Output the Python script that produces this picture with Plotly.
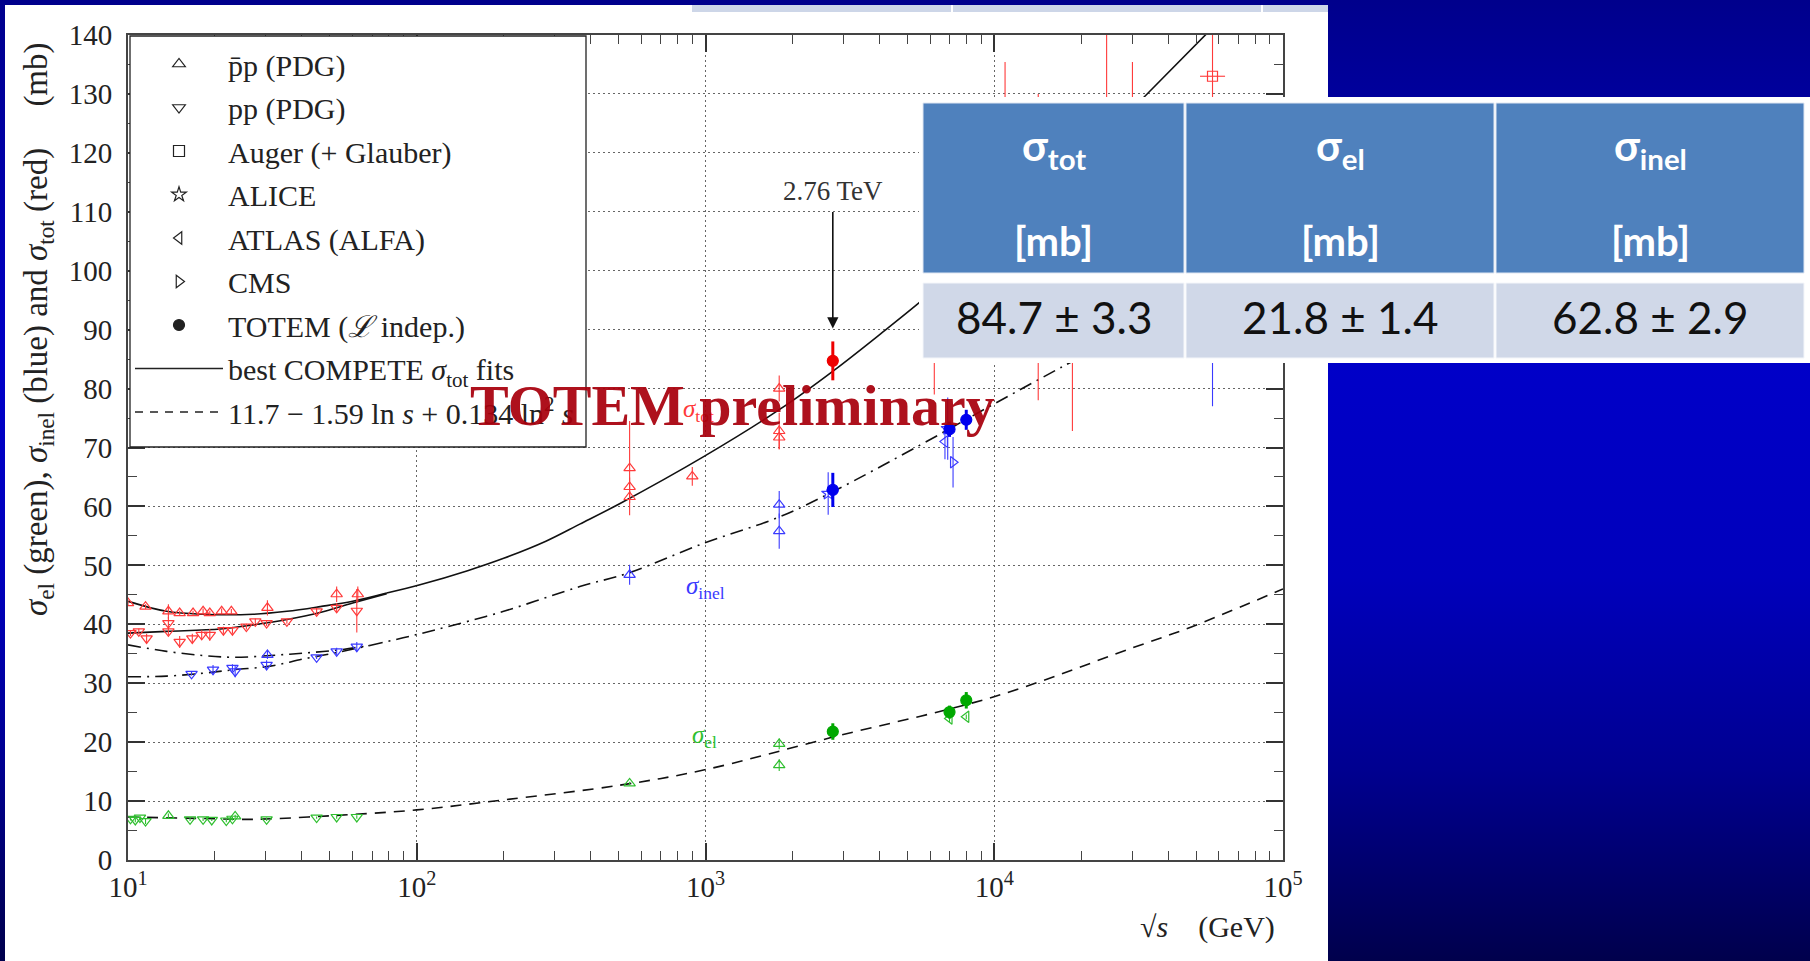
import base64
import math
import plotly.graph_objects as go

# ------------------------------------------------------------------ data
# sigma_tot (red)
tot_pbarp_x = [10.0, 11.5, 13.8, 15.1, 16.8, 18.2, 19.2, 21.1, 22.8, 30.4, 52.8, 62.5, 546, 546, 546, 900, 1800, 1800, 1800]
tot_pbarp_y = [43.6, 43.0, 42.2, 41.9, 41.9, 42.2, 41.9, 42.2, 42.2, 42.8, 45.1, 45.1, 66.5, 63.3, 61.6, 65.1, 80.0, 72.8, 71.7]
tot_pbarp_e = [0.4, 0.4, 1.2, 0.4, 0.4, 0.5, 0.4, 0.5, 0.4, 1.3, 1.3, 1.3, 8.0, 1.6, 1.0, 1.6, 2.2, 3.1, 2.0]

tot_pp_x = [10.2, 10.9, 11.6, 13.8, 13.8, 15.1, 16.7, 18.0, 19.2, 21.4, 23.0, 25.7, 27.6, 30.2, 35.5, 45.0, 52.8, 62.0]
tot_pp_y = [38.5, 38.8, 37.6, 38.8, 40.2, 37.0, 37.6, 38.2, 38.2, 39.0, 39.0, 39.6, 40.5, 40.2, 40.5, 42.2, 42.8, 42.3]
tot_pp_e = [0.5, 0.5, 0.8, 0.6, 1.0, 1.0, 0.8, 0.8, 1.0, 0.6, 0.6, 0.5, 0.5, 0.5, 0.4, 0.6, 0.8, 3.7]

tot_cosmic_x = [6200, 10900, 14200, 18650, 24500, 30100]
tot_cosmic_y = [95.0, 118.0, 104.0, 97.0, 122.0, 120.0]
tot_cosmic_e = [16.0, 17.4, 26.0, 24.2, 26.0, 15.4]

auger_x = [57000]
auger_x_err_lo = [5400]
auger_x_err_hi = [6000]
auger_tot_y = [133.0]
auger_tot_e = [20.0]
auger_inel_y = [92.0]
auger_inel_e = [15.0]

totem_x = [2760, 7000, 8000]
totem_tot_y = [84.7, 98.3, 101.7]
totem_tot_e = [3.3, 2.8, 2.9]
totem_inel_y = [62.8, 73.1, 74.7]
totem_inel_e = [2.9, 1.3, 1.7]
totem_el_y = [21.8, 25.1, 27.1]
totem_el_e = [1.4, 1.1, 1.4]

# sigma_inel (blue)
inel_pp_x = [16.6, 19.7, 23.0, 23.5, 30.2, 45.0, 52.8, 62.0]
inel_pp_y = [31.6, 32.3, 32.6, 32.0, 33.1, 34.4, 35.4, 36.2]
inel_pp_e = [0.3, 0.8, 0.6, 1.0, 0.8, 0.3, 0.6, 0.8]
inel_pbarp_x = [30.4, 546, 1800, 1800]
inel_pbarp_y = [34.8, 48.4, 60.3, 55.8]
inel_pbarp_e = [0.7, 1.7, 2.3, 3.0]
alice_inel_x = [2660, 6900]
alice_inel_y = [62.2, 73.2]
alice_inel_e = [3.6, 5.3]
atlas_inel_x = [6750]
atlas_inel_y = [71.0]
atlas_inel_e = [3.0]
cms_inel_x = [7200]
cms_inel_y = [67.5]
cms_inel_e = [4.3]

# sigma_el (green)
el_pp_x = [10.2, 10.6, 11.0, 11.5, 16.4, 18.2, 19.5, 21.9, 23.0, 30.2, 45.0, 52.8, 62.0]
el_pp_y = [7.0, 6.8, 7.2, 6.6, 6.9, 6.9, 6.8, 6.7, 7.0, 6.9, 7.2, 7.3, 7.3]
el_pp_e = [0.3, 0.4, 0.3, 0.5, 0.3, 0.3, 0.2, 0.3, 0.3, 0.3, 0.2, 0.3, 0.3]
el_pbarp_x = [13.8, 23.5, 546, 1800, 1800]
el_pbarp_y = [7.5, 7.4, 13.0, 19.7, 16.1]
el_pbarp_e = [0.4, 0.3, 0.3, 0.9, 1.0]
atlas_el_x = [7000, 8000]
atlas_el_y = [24.0, 24.3]
atlas_el_e = [0.6, 0.4]

# fitted curves
fit_tot_pbarp_x = [10, 13.6, 18.2, 27.1, 35.5, 46.3, 60.0, 78.7]
fit_tot_pbarp_y = [43.9, 42.2, 41.7, 41.7, 42.2, 43.0, 43.9, 45.3]
fit_tot_pp_x = [10, 13.6, 20.9, 27.1, 35.5, 46.3, 60.0, 78.7]
fit_tot_pp_y = [38.5, 38.8, 39.2, 39.9, 40.8, 42.0, 43.6, 45.2]
fit_tot_x = [78.7, 102.6, 150, 200, 280, 367, 506, 982, 1811, 2786, 4236, 5380, 10000, 20000, 33700, 55100]
fit_tot_y = [45.3, 46.7, 49.1, 51.2, 54.1, 57.0, 60.5, 68.4, 76.5, 83.1, 90.1, 94.2, 105.4, 118.8, 129.9, 140.5]

fit_inel_a_x = [10, 13.6, 18.2, 23.4, 31.1, 40.4, 52.8, 68.8]
fit_inel_a_y = [36.5, 35.4, 34.7, 34.4, 34.7, 35.1, 35.6, 36.4]
fit_inel_b_x = [10, 13.6, 18.2, 23.4, 31.1, 40.4, 52.8, 68.8]
fit_inel_b_y = [31.1, 31.2, 31.7, 32.3, 32.9, 34.1, 35.2, 36.4]
fit_inel_x = [68.8, 89.7, 117, 200, 367, 541, 993, 1800, 2786, 5530, 9660, 16900, 30000]
fit_inel_y = [36.4, 37.7, 39.1, 42.2, 46.4, 48.7, 53.8, 58.2, 62.6, 70.4, 77.0, 83.5, 90.0]

fit_el_x = [10, 20, 27, 50, 100, 200, 506, 993, 2786, 9980, 30100, 48400, 100000]
fit_el_y = [7.3, 7.0, 6.9, 7.5, 8.5, 10.2, 12.7, 15.3, 20.9, 27.7, 36.0, 39.6, 46.0]

# axis ticks
x_tick_vals = [10, 100, 1000, 10000, 100000]
x_tick_text = ["10<sup>1</sup>", "10<sup>2</sup>", "10<sup>3</sup>", "10<sup>4</sup>", "10<sup>5</sup>"]

# legend
legend_names = ["p\u0304p (PDG)", "pp (PDG)", "Auger (+ Glauber)", "ALICE", "ATLAS (ALFA)", "CMS",
                "TOTEM (<i>\u2112</i> indep.)", "best COMPETE <i>\u03c3</i><sub>tot</sub> fits",
                "11.7 \u2212 1.59 ln <i>s</i> + 0.134 ln<sup>2</sup> <i>s</i>"]
legend_symbols = ["triangle-up-open", "triangle-down-open", "square-open", "star-open",
                  "triangle-left-open", "triangle-right-open", "circle", None, None]

# table
table_subs = ["tot", "el", "inel"]
table_unit = "[mb]"
table_values = ["84.7 \u00b1 3.3", "21.8 \u00b1 1.4", "62.8 \u00b1 2.9"]

energy_mark = 2760
energy_mark_text = "2.76 TeV"

# ------------------------------------------------------------------ layout helpers
W, H = 1810, 961
L, R, T, B = 128, 1283, 35, 860


def px(x):
    return (x - L) / (R - L)


def py(y):
    return (B - y) / (B - T)


RED, RED_F = "#ff3a3a", "#ee0000"
BLUE, BLUE_F = "#3a3aff", "#0000ee"
GREEN, GREEN_F = "#2fbf2f", "#00a800"
SERIF = "Liberation Serif, Times New Roman, serif"
SANS = "Lato, Noto Sans, sans-serif"

fig = go.Figure()


def curve(x, y, dash):
    fig.add_trace(go.Scatter(x=x, y=y, mode="lines", line=dict(color="#111", width=1.6, dash=dash, shape="spline"),
                             showlegend=False, hoverinfo="skip"))


DASHDOT = "13px,6px,2px,6px"
DASH = "11px,8px"
curve(fit_tot_pbarp_x, fit_tot_pbarp_y, "solid")
curve(fit_tot_pp_x, fit_tot_pp_y, "solid")
curve(fit_tot_x, fit_tot_y, "solid")
curve(fit_inel_a_x, fit_inel_a_y, DASHDOT)
curve(fit_inel_b_x, fit_inel_b_y, DASHDOT)
curve(fit_inel_x, fit_inel_y, DASHDOT)
curve(fit_el_x, fit_el_y, DASH)


def pts(x, y, e, color, symbol, size=10, thick=1.1, ex=None):
    kw = {}
    if ex is not None:
        kw["error_x"] = dict(type="data", symmetric=False, array=ex[1], arrayminus=ex[0], color=color,
                             thickness=thick, width=0)
    fig.add_trace(go.Scatter(x=x, y=y, mode="markers",
                             marker=dict(symbol=symbol, size=size, color=color, line=dict(color=color, width=1.2)),
                             error_y=dict(type="data", array=e, color=color, thickness=thick, width=0),
                             showlegend=False, hoverinfo="skip", **kw))


pts(tot_pbarp_x, tot_pbarp_y, tot_pbarp_e, RED, "triangle-up-open")
pts(tot_pp_x, tot_pp_y, tot_pp_e, RED, "triangle-down-open")
pts(tot_cosmic_x, tot_cosmic_y, tot_cosmic_e, RED, "triangle-up-open")
pts(auger_x, auger_tot_y, auger_tot_e, RED, "square-open", ex=(auger_x_err_lo, auger_x_err_hi))
pts(auger_x, auger_inel_y, auger_inel_e, BLUE, "square-open", ex=(auger_x_err_lo, auger_x_err_hi))
pts(inel_pp_x, inel_pp_y, inel_pp_e, BLUE, "triangle-down-open")
pts(inel_pbarp_x, inel_pbarp_y, inel_pbarp_e, BLUE, "triangle-up-open")
pts(alice_inel_x, alice_inel_y, alice_inel_e, BLUE, "star-open")
pts(atlas_inel_x, atlas_inel_y, atlas_inel_e, BLUE, "triangle-left-open")
pts(cms_inel_x, cms_inel_y, cms_inel_e, BLUE, "triangle-right-open")
pts(el_pp_x, el_pp_y, el_pp_e, GREEN, "triangle-down-open")
pts(el_pbarp_x, el_pbarp_y, el_pbarp_e, GREEN, "triangle-up-open")
pts(atlas_el_x, atlas_el_y, atlas_el_e, GREEN, "triangle-left-open")
pts(totem_x, totem_tot_y, totem_tot_e, RED_F, "circle", size=11, thick=3)
pts(totem_x, totem_inel_y, totem_inel_e, BLUE_F, "circle", size=11, thick=3)
pts(totem_x, totem_el_y, totem_el_e, GREEN_F, "circle", size=11, thick=3)

# legend-only entries (black)
for i, (name, sym) in enumerate(zip(legend_names, legend_symbols)):
    if sym is not None:
        fig.add_trace(go.Scatter(x=[None], y=[None], mode="markers", name=name, legendgroup=str(i),
                                 marker=dict(symbol=sym, size=11, color="#222", line=dict(color="#222", width=1.2))))
    else:
        fig.add_trace(go.Scatter(x=[None], y=[None], mode="lines", name=name, legendgroup=str(i),
                                 line=dict(color="#222", width=1.4, dash="solid" if i == 7 else "8px,7px")))

# ------------------------------------------------------------------ background / table shapes
svg = ('<svg xmlns="http://www.w3.org/2000/svg" width="%d" height="%d"><defs>'
       '<linearGradient id="g" x1="0" y1="0" x2="0" y2="1">'
       '<stop offset="0" stop-color="#00008c"/><stop offset="0.38" stop-color="#0000c8"/>'
       '<stop offset="0.6" stop-color="#0000bc"/><stop offset="0.8" stop-color="#000090"/>'
       '<stop offset="1" stop-color="#00004c"/></linearGradient></defs>'
       '<rect width="%d" height="%d" fill="url(#g)"/></svg>') % (W, H, W, H)
src = "data:image/svg+xml;base64," + base64.b64encode(svg.encode()).decode()

shapes = []


def rect(x0, y0, x1, y1, fill, layer="above", line=None):
    shapes.append(dict(type="rect", xref="paper", yref="paper", x0=px(x0), x1=px(x1), y0=py(y1), y1=py(y0),
                       fillcolor=fill, layer=layer,
                       line=dict(width=0) if line is None else line))


rect(5, 5, 1328, H + 5, "white", layer="below")
rect(692, 5, 1328, 12, "#cdd6e8", layer="below")
rect(951, 5, 953, 12, "white", layer="below")
rect(1261, 5, 1263, 12, "white", layer="below")
# legend frame
rect(130, 36, 586, 447, "white", line=dict(color="#222", width=1.3))
# table
rect(919, 97, W + 5, 363, "white")
cols = [(923, 1184), (1186, 1494), (1496, 1804)]
for (c0, c1) in cols:
    rect(c0, 103, c1, 273, "#4f81bd", line=dict(color="#dfe6f2", width=1))
    rect(c0, 283, c1, 358, "#d0d8e8", line=dict(color="#f4f6fa", width=1))


def ann(**kw):
    kw.setdefault("xanchor", "center")
    kw.setdefault("yanchor", "middle")
    kw.setdefault("showarrow", False)
    return kw


annotations = []
for (c0, c1), sub, val in zip(cols, table_subs, table_values):
    cx = px((c0 + c1) / 2)
    annotations.append(ann(xref="paper", yref="paper", x=cx, y=py(148),
                           text="\u03c3<sub>%s</sub>" % sub,
                           font=dict(family=SANS, size=42, color="white", weight="bold")))
    annotations.append(ann(xref="paper", yref="paper", x=cx, y=py(241),
                           text=table_unit, font=dict(family=SANS, size=40, color="white", weight="bold")))
    annotations.append(ann(xref="paper", yref="paper", x=cx, y=py(317),
                           text=val, font=dict(family=SANS, size=44, color="#111")))

lx = math.log10(energy_mark)
annotations += [
    ann(x=lx, y=113.5, xref="x", yref="y", text=energy_mark_text,
        font=dict(family=SERIF, size=27, color="#333")),
    dict(x=lx, y=90.2, ax=lx, ay=110.2, xref="x", yref="y", axref="x", ayref="y", text="",
         showarrow=True, arrowhead=2, arrowsize=1.4, arrowwidth=1.6, arrowcolor="#111", standoff=0),
    ann(x=math.log10(942), y=76.2, xref="x", yref="y", text="<i>\u03c3</i><sub>tot</sub>",
        font=dict(family=SERIF, size=25, color=RED)),
    ann(x=math.log10(1000), y=46.3, xref="x", yref="y", text="<i>\u03c3</i><sub>inel</sub>",
        font=dict(family=SERIF, size=25, color=BLUE)),
    ann(x=math.log10(995), y=20.9, xref="x", yref="y", text="<i>\u03c3</i><sub>el</sub>",
        font=dict(family=SERIF, size=25, color=GREEN)),
    ann(xref="paper", yref="paper", x=px(732), y=py(405), text="TOTEM preliminary", opacity=0.93,
        font=dict(family=SERIF, size=58, color="#a8000c", weight="bold")),
    ann(xref="paper", yref="paper", x=px(39), y=py(329), textangle=-90,
        text="<i>\u03c3</i><sub>el</sub> (green), <i>\u03c3</i><sub>inel</sub> (blue) and "
             "<i>\u03c3</i><sub>tot</sub> (red)\u00a0\u00a0\u00a0\u00a0\u00a0(mb)",
        font=dict(family=SERIF, size=33, color="#222")),
    ann(xref="paper", yref="paper", x=px(1277), y=py(927), xanchor="right",
        text="\u221a<i>s</i>\u00a0\u00a0\u00a0\u00a0(GeV)", font=dict(family=SERIF, size=30, color="#222")),
]

minor_x = [m * 10 ** d for d in range(1, 5) for m in range(2, 10)]

fig.update_layout(
    width=W, height=H, autosize=False,
    margin=dict(l=L, r=W - R, t=T, b=H - B, pad=0),
    paper_bgcolor="#0000a0", plot_bgcolor="white",
    images=[dict(source=src, xref="paper", yref="paper", x=px(0), y=py(0), sizex=W / (R - L),
                 sizey=H / (B - T), xanchor="left", yanchor="top", sizing="stretch", layer="below")],
    shapes=shapes, annotations=annotations,
    xaxis=dict(type="log", range=[1, 5], tickmode="array", tickvals=x_tick_vals, ticktext=x_tick_text,
               ticks="inside", ticklen=17, tickwidth=1.6, tickcolor="#333",
               showline=True, linecolor="#444", linewidth=2, mirror="ticks",
               showgrid=True, gridcolor="#666", gridwidth=1, griddash="1.5px,3.5px", zeroline=False,
               minor=dict(tickmode="array", tickvals=minor_x, ticks="inside", ticklen=9, tickwidth=1.2,
                          tickcolor="#444", showgrid=False),
               tickfont=dict(family=SERIF, size=29, color="#222")),
    yaxis=dict(range=[0, 140], dtick=10, ticks="inside", ticklen=17, tickwidth=1.6, tickcolor="#333",
               showline=True, linecolor="#444", linewidth=2, mirror="ticks",
               showgrid=True, gridcolor="#666", gridwidth=1, griddash="1.5px,3.5px", zeroline=False,
               minor=dict(dtick=5, ticks="inside", ticklen=9, tickwidth=1.2, tickcolor="#444", showgrid=False),
               tickfont=dict(family=SERIF, size=29, color="#222"), ticklabelstandoff=8),
    legend=dict(x=px(130), y=py(38), xanchor="left", yanchor="top", bgcolor="rgba(0,0,0,0)",
                borderwidth=0, itemwidth=88, traceorder="grouped", tracegroupgap=1.5,
                font=dict(family=SERIF, size=30, color="#222"), valign="middle"),
    showlegend=True,
)

fig.write_html("out.html", config={"displayModeBar": False},
               post_script="document.body.style.margin='0';document.body.style.overflow='hidden';")
